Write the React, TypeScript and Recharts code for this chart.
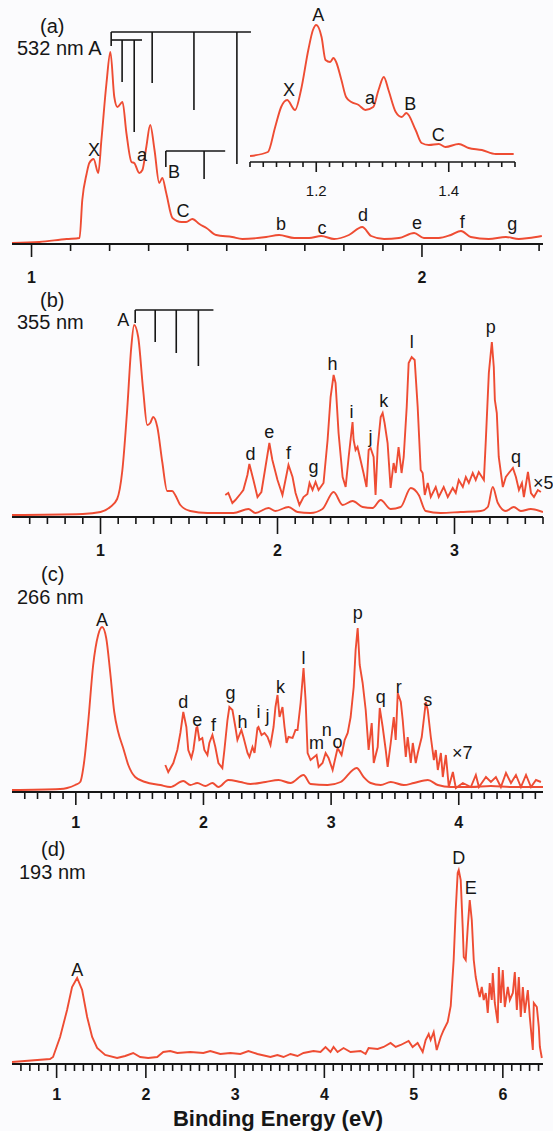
import React from 'react';
import { LineChart, Line, XAxis, YAxis, ReferenceLine, ReferenceDot } from 'recharts';

const W = 553;
const RED = '#ee4c33';
const INK = '#161616';
const FONT = '"Liberation Sans", Arial, Helvetica, sans-serif';

// (a) 532 nm, full range
const aEnergy = [0.95, 1.02, 1.09, 1.123, 1.13, 1.141, 1.148, 1.159, 1.171, 1.179, 1.192, 1.202, 1.212, 1.22, 1.233, 1.243, 1.256, 1.263, 1.276, 1.284, 1.294, 1.304, 1.315, 1.327, 1.335, 1.345, 1.361, 1.384, 1.396, 1.412, 1.43, 1.448, 1.473, 1.514, 1.54, 1.601, 1.634, 1.673, 1.711, 1.742, 1.775, 1.813, 1.847, 1.87, 1.903, 1.941, 1.98, 2.005, 2.043, 2.074, 2.1, 2.125, 2.171, 2.215, 2.248, 2.274, 2.307];
const aSignal = [0.005, 0.01, 0.025, 0.03, 0.22, 0.35, 0.405, 0.425, 0.355, 0.52, 0.805, 0.96, 0.735, 0.685, 0.71, 0.555, 0.41, 0.405, 0.355, 0.37, 0.485, 0.595, 0.47, 0.305, 0.33, 0.255, 0.13, 0.11, 0.11, 0.125, 0.1, 0.08, 0.045, 0.035, 0.025, 0.035, 0.045, 0.03, 0.03, 0.04, 0.025, 0.045, 0.085, 0.04, 0.025, 0.03, 0.055, 0.03, 0.03, 0.045, 0.065, 0.035, 0.025, 0.035, 0.025, 0.03, 0.04];

// (a) inset, expanded low-energy part
const insetEnergy = [1.1, 1.127, 1.138, 1.147, 1.156, 1.168, 1.177, 1.188, 1.195, 1.2, 1.208, 1.214, 1.221, 1.226, 1.23, 1.238, 1.245, 1.253, 1.264, 1.274, 1.286, 1.294, 1.302, 1.309, 1.32, 1.329, 1.336, 1.35, 1.359, 1.37, 1.385, 1.395, 1.415, 1.43, 1.45, 1.471, 1.498];
const insetSignal = [0.06, 0.1, 0.35, 0.55, 0.62, 0.52, 0.72, 1.12, 1.32, 1.37, 1.25, 1.02, 1.0, 1.04, 1.0, 0.82, 0.65, 0.6, 0.57, 0.52, 0.55, 0.72, 0.85, 0.72, 0.5, 0.45, 0.49, 0.32, 0.19, 0.17, 0.18, 0.15, 0.18, 0.14, 0.12, 0.08, 0.08];

// (b) 355 nm
const bEnergy = [0.5, 0.9, 1.0, 1.055, 1.094, 1.123, 1.151, 1.173, 1.19, 1.213, 1.241, 1.264, 1.281, 1.298, 1.321, 1.349, 1.377, 1.405, 1.422, 1.451, 1.507, 1.604, 1.751, 1.836, 1.875, 1.949, 1.988, 2.062, 2.113, 2.186, 2.254, 2.317, 2.368, 2.424, 2.481, 2.537, 2.583, 2.639, 2.696, 2.753, 2.798, 2.837, 2.922, 3.035, 3.149, 3.188, 3.216, 3.245, 3.29, 3.335, 3.375, 3.431, 3.5];
const bSignal = [0.01, 0.015, 0.025, 0.05, 0.09, 0.23, 0.54, 0.84, 0.96, 0.9, 0.635, 0.46, 0.47, 0.5, 0.45, 0.275, 0.13, 0.13, 0.11, 0.06, 0.03, 0.02, 0.02, 0.04, 0.02, 0.045, 0.03, 0.05, 0.025, 0.02, 0.04, 0.125, 0.06, 0.08, 0.05, 0.045, 0.085, 0.04, 0.05, 0.145, 0.11, 0.03, 0.02, 0.025, 0.03, 0.05, 0.15, 0.07, 0.03, 0.05, 0.03, 0.04, 0.025];
const bX5Energy = [1.705, 1.722, 1.745, 1.762, 1.79, 1.807, 1.83, 1.841, 1.864, 1.887, 1.909, 1.932, 1.954, 1.971, 2.0, 2.028, 2.045, 2.062, 2.085, 2.102, 2.124, 2.147, 2.169, 2.181, 2.198, 2.215, 2.232, 2.26, 2.283, 2.3, 2.317, 2.328, 2.345, 2.368, 2.385, 2.402, 2.424, 2.43, 2.441, 2.452, 2.469, 2.486, 2.503, 2.515, 2.526, 2.543, 2.554, 2.566, 2.583, 2.594, 2.605, 2.622, 2.639, 2.656, 2.668, 2.684, 2.701, 2.713, 2.73, 2.741, 2.758, 2.775, 2.792, 2.809, 2.82, 2.832, 2.849, 2.866, 2.894, 2.911, 2.939, 2.962, 2.99, 3.007, 3.024, 3.047, 3.064, 3.081, 3.103, 3.12, 3.137, 3.166, 3.177, 3.194, 3.211, 3.222, 3.228, 3.239, 3.25, 3.273, 3.29, 3.307, 3.33, 3.347, 3.364, 3.381, 3.392, 3.415, 3.432, 3.449, 3.471, 3.488];
const bX5Signal = [0.11, 0.12, 0.07, 0.085, 0.115, 0.135, 0.21, 0.265, 0.185, 0.1, 0.125, 0.25, 0.37, 0.285, 0.185, 0.11, 0.185, 0.26, 0.2, 0.12, 0.06, 0.1, 0.115, 0.17, 0.135, 0.175, 0.135, 0.17, 0.385, 0.6, 0.71, 0.67, 0.42, 0.2, 0.15, 0.3, 0.475, 0.385, 0.335, 0.35, 0.285, 0.22, 0.15, 0.335, 0.345, 0.3, 0.11, 0.35, 0.5, 0.52, 0.47, 0.37, 0.145, 0.27, 0.22, 0.35, 0.22, 0.3, 0.55, 0.77, 0.8, 0.785, 0.55, 0.235, 0.22, 0.11, 0.17, 0.1, 0.15, 0.1, 0.15, 0.1, 0.145, 0.12, 0.185, 0.15, 0.2, 0.17, 0.22, 0.185, 0.225, 0.185, 0.385, 0.72, 0.875, 0.75, 0.585, 0.52, 0.3, 0.15, 0.2, 0.22, 0.245, 0.2, 0.135, 0.17, 0.1, 0.225, 0.12, 0.1, 0.135, 0.125];

// (c) 266 nm
const cEnergy = [0.5, 0.877, 0.932, 0.995, 1.034, 1.065, 1.097, 1.136, 1.175, 1.206, 1.238, 1.269, 1.301, 1.332, 1.371, 1.411, 1.465, 1.544, 1.662, 1.74, 1.842, 1.897, 1.952, 2.015, 2.07, 2.117, 2.195, 2.29, 2.368, 2.486, 2.588, 2.682, 2.784, 2.839, 2.973, 3.075, 3.2, 3.255, 3.31, 3.389, 3.467, 3.569, 3.648, 3.758, 3.836, 3.938, 4.095, 4.252, 4.409, 4.66];
const cSignal = [0.01, 0.015, 0.02, 0.035, 0.05, 0.15, 0.35, 0.635, 0.785, 0.825, 0.77, 0.6, 0.4, 0.3, 0.22, 0.135, 0.075, 0.05, 0.035, 0.025, 0.055, 0.035, 0.045, 0.03, 0.045, 0.025, 0.06, 0.05, 0.04, 0.05, 0.06, 0.045, 0.085, 0.04, 0.035, 0.05, 0.12, 0.075, 0.045, 0.035, 0.05, 0.035, 0.045, 0.06, 0.035, 0.025, 0.025, 0.03, 0.025, 0.025];
const cX7Energy = [1.701, 1.724, 1.764, 1.795, 1.819, 1.842, 1.866, 1.881, 1.905, 1.921, 1.944, 1.952, 1.968, 1.991, 2.007, 2.031, 2.046, 2.07, 2.093, 2.117, 2.148, 2.164, 2.188, 2.203, 2.227, 2.25, 2.266, 2.297, 2.313, 2.345, 2.36, 2.384, 2.4, 2.423, 2.431, 2.455, 2.478, 2.502, 2.525, 2.549, 2.564, 2.58, 2.596, 2.619, 2.635, 2.651, 2.666, 2.698, 2.721, 2.737, 2.761, 2.784, 2.8, 2.816, 2.839, 2.886, 2.902, 2.933, 2.957, 2.98, 3.012, 3.035, 3.051, 3.082, 3.106, 3.13, 3.153, 3.177, 3.192, 3.208, 3.224, 3.247, 3.271, 3.294, 3.318, 3.334, 3.365, 3.381, 3.404, 3.428, 3.443, 3.467, 3.491, 3.506, 3.522, 3.546, 3.561, 3.585, 3.6, 3.624, 3.64, 3.663, 3.679, 3.71, 3.742, 3.757, 3.781, 3.805, 3.82, 3.836, 3.86, 3.875, 3.899, 3.922, 3.954, 3.977, 4.032, 4.095, 4.134, 4.158, 4.213, 4.252, 4.291, 4.33, 4.37, 4.409, 4.448, 4.487, 4.527, 4.566, 4.605, 4.644];
const cX7Signal = [0.135, 0.1, 0.145, 0.21, 0.295, 0.4, 0.325, 0.21, 0.17, 0.21, 0.32, 0.325, 0.26, 0.27, 0.21, 0.185, 0.245, 0.285, 0.225, 0.145, 0.12, 0.21, 0.36, 0.425, 0.41, 0.325, 0.26, 0.31, 0.275, 0.195, 0.175, 0.225, 0.195, 0.32, 0.325, 0.285, 0.295, 0.275, 0.235, 0.325, 0.425, 0.485, 0.375, 0.425, 0.325, 0.245, 0.275, 0.27, 0.31, 0.31, 0.445, 0.62, 0.46, 0.195, 0.16, 0.185, 0.125, 0.145, 0.195, 0.17, 0.11, 0.175, 0.22, 0.185, 0.26, 0.295, 0.375, 0.525, 0.71, 0.82, 0.635, 0.545, 0.41, 0.21, 0.345, 0.145, 0.225, 0.42, 0.325, 0.21, 0.125, 0.245, 0.375, 0.26, 0.495, 0.45, 0.36, 0.175, 0.275, 0.145, 0.245, 0.145, 0.195, 0.275, 0.45, 0.41, 0.275, 0.16, 0.21, 0.11, 0.195, 0.075, 0.185, 0.025, 0.1, 0.02, 0.045, 0.025, 0.085, 0.025, 0.075, 0.05, 0.075, 0.025, 0.095, 0.045, 0.085, 0.025, 0.085, 0.025, 0.06, 0.05];

// (d) 193 nm
const dEnergy = [0.5, 0.926, 0.96, 1.039, 1.117, 1.173, 1.23, 1.286, 1.342, 1.398, 1.454, 1.544, 1.678, 1.768, 1.858, 1.936, 2.026, 2.127, 2.195, 2.273, 2.352, 2.498, 2.644, 2.722, 2.834, 2.947, 3.059, 3.149, 3.25, 3.396, 3.474, 3.542, 3.62, 3.699, 3.766, 3.878, 3.957, 4.013, 4.069, 4.103, 4.148, 4.215, 4.293, 4.406, 4.462, 4.496, 4.597, 4.664, 4.742, 4.799, 4.855, 4.944, 4.989, 5.045, 5.102, 5.135, 5.169, 5.191, 5.225, 5.259, 5.304, 5.337, 5.382, 5.416, 5.449, 5.472, 5.494, 5.506, 5.528, 5.55, 5.562, 5.584, 5.607, 5.629, 5.652, 5.674, 5.696, 5.719, 5.741, 5.764, 5.786, 5.809, 5.831, 5.853, 5.876, 5.887, 5.91, 5.943, 5.955, 5.977, 5.999, 6.022, 6.056, 6.078, 6.112, 6.134, 6.157, 6.179, 6.201, 6.224, 6.246, 6.28, 6.302, 6.336, 6.347, 6.381, 6.403, 6.415, 6.437];
const dSignal = [0.01, 0.025, 0.035, 0.135, 0.27, 0.385, 0.43, 0.37, 0.235, 0.135, 0.08, 0.045, 0.03, 0.04, 0.055, 0.035, 0.03, 0.035, 0.06, 0.065, 0.055, 0.06, 0.055, 0.065, 0.05, 0.055, 0.05, 0.065, 0.05, 0.035, 0.045, 0.035, 0.05, 0.04, 0.055, 0.065, 0.06, 0.085, 0.06, 0.085, 0.06, 0.08, 0.06, 0.065, 0.05, 0.08, 0.075, 0.085, 0.105, 0.085, 0.095, 0.115, 0.085, 0.105, 0.06, 0.12, 0.15, 0.12, 0.16, 0.07, 0.135, 0.17, 0.21, 0.29, 0.52, 0.77, 0.955, 0.97, 0.92, 0.685, 0.535, 0.52, 0.685, 0.82, 0.72, 0.52, 0.435, 0.38, 0.335, 0.385, 0.32, 0.355, 0.255, 0.405, 0.32, 0.455, 0.305, 0.205, 0.485, 0.305, 0.47, 0.285, 0.385, 0.32, 0.355, 0.46, 0.27, 0.435, 0.235, 0.385, 0.255, 0.37, 0.235, 0.07, 0.305, 0.285, 0.185, 0.085, 0.03];

// peak assignments: [label, energy (eV), height]
type Peak = [string, number, number];
const aPeaks: Peak[] = [['X', 1.16, 0.47], ['a', 1.283, 0.445], ['B', 1.365, 0.36], ['C', 1.388, 0.165], ['b', 1.639, 0.1], ['c', 1.744, 0.08], ['d', 1.849, 0.145], ['e', 1.987, 0.105], ['f', 2.103, 0.11], ['g', 2.231, 0.1]];
const insetPeaks: Peak[] = [['A', 1.203, 1.47], ['X', 1.159, 0.72], ['a', 1.281, 0.64], ['B', 1.342, 0.58], ['C', 1.384, 0.27]];
const bPeaks: Peak[] = [['A', 1.128, 0.985], ['d', 1.847, 0.315], ['e', 1.954, 0.425], ['f', 2.062, 0.32], ['g', 2.203, 0.25], ['h', 2.311, 0.765], ['i', 2.418, 0.525], ['j', 2.526, 0.4], ['k', 2.6, 0.58], ['l', 2.758, 0.875], ['p', 3.205, 0.95], ['q', 3.347, 0.3]];
const cPeaks: Peak[] = [['A', 1.206, 0.86], ['d', 1.842, 0.45], ['e', 1.952, 0.36], ['f', 2.078, 0.335], ['g', 2.211, 0.495], ['h', 2.305, 0.35], ['i', 2.431, 0.4], ['j', 2.502, 0.38], ['k', 2.604, 0.525], ['l', 2.784, 0.67], ['m', 2.886, 0.245], ['n', 2.965, 0.31], ['o', 3.051, 0.25], ['p', 3.208, 0.895], ['q', 3.389, 0.475], ['r', 3.53, 0.525], ['s', 3.757, 0.46]];
const dPeaks: Peak[] = [['A', 1.23, 0.47], ['D', 5.506, 1.03], ['E', 5.64, 0.88]];

// vibrational progressions (combs): [e1, h1, e2, h2]
type Seg = [number, number, number, number];
const aCombs: Seg[] = [
  [1.204, 1.06, 1.562, 1.06], [1.204, 1.06, 1.204, 0.99], [1.309, 1.06, 1.309, 0.805], [1.416, 1.06, 1.416, 0.67], [1.526, 1.06, 1.526, 0.4],
  [1.204, 1.02, 1.283, 1.02], [1.232, 1.02, 1.232, 0.81], [1.263, 1.02, 1.263, 0.56],
  [1.344, 0.465, 1.496, 0.465], [1.344, 0.465, 1.344, 0.385], [1.442, 0.465, 1.442, 0.325],
];
const bCombs: Seg[] = [
  [1.196, 1.035, 1.638, 1.035], [1.196, 1.035, 1.196, 0.97], [1.309, 1.035, 1.309, 0.875], [1.428, 1.035, 1.428, 0.82], [1.553, 1.035, 1.553, 0.755],
];

type Trace = { e: number[]; v: number[]; smooth: boolean };

const steps = (from: number, to: number, step: number) => {
  const out: number[] = [];
  for (let k = 0; from + k * step <= to + 1e-9; k++) out.push(Math.round((from + k * step) * 1000) / 1000);
  return out;
};
const near = (list: number[], v: number) => list.some((m) => Math.abs(m - v) < 1e-6);
const joinTrace = (e: number[], v: number[]) => e.map((x, i) => ({ e: x, v: v[i] }));

function makeTick(longs: number[], labelled: number[], longLen: number, shortLen: number, gap: number, bold: boolean, size: number) {
  return (props: any) => {
    const { x, y, payload } = props;
    const val = payload.value as number;
    const isLong = near(longs, val);
    return (
      <g>
        <line x1={x} y1={y} x2={x} y2={y + (isLong ? longLen : shortLen)} stroke={INK} strokeWidth={1.6} />
        {near(labelled, val) && (
          <text x={x} y={y + gap} textAnchor="middle" dominantBaseline="central" fontFamily={FONT} fontSize={size} fontWeight={bold ? 700 : 400} fill={INK}>
            {val}
          </text>
        )}
      </g>
    );
  };
}

interface PanelProps {
  plotTop: number;
  plotH: number;
  xDomain: [number, number];
  yMax: number;
  ticks: number[];
  majors: number[];
  majorLen: number;
  gap: number;
  traces: Trace[];
  peaks: Peak[];
  segs?: Seg[];
}

function Panel({ plotTop, plotH, xDomain, yMax, ticks, majors, majorLen, gap, traces, peaks, segs = [] }: PanelProps) {
  return (
    <div style={{ position: 'absolute', left: 0, top: plotTop - 10 }}>
      <LineChart width={W} height={plotH + 60} margin={{ top: 10, right: 10, bottom: 10, left: 12 }}>
        <XAxis
          type="number"
          dataKey="e"
          domain={xDomain}
          allowDataOverflow
          ticks={ticks}
          interval={0}
          tickLine={false}
          tickSize={0}
          tickMargin={0}
          tick={makeTick(majors, majors, majorLen, 7, gap, true, 16)}
          axisLine={{ stroke: INK, strokeWidth: 2 }}
          height={40}
        />
        <YAxis type="number" domain={[0, yMax]} allowDataOverflow width={0} tick={false} tickLine={false} axisLine={{ stroke: INK, strokeWidth: 2 }} />
        {traces.map((tr, i) => (
          <Line
            key={`t${i}`}
            data={joinTrace(tr.e, tr.v)}
            dataKey="v"
            type={tr.smooth ? 'monotone' : 'linear'}
            stroke={RED}
            strokeWidth={1.9}
            dot={false}
            isAnimationActive={false}
          />
        ))}
        {segs.map((s, i) => (
          <ReferenceLine key={`s${i}`} segment={[{ x: s[0], y: s[1] }, { x: s[2], y: s[3] }]} stroke={INK} strokeWidth={1.6} ifOverflow="visible" />
        ))}
        {peaks.map(([t, e, v], i) => (
          <ReferenceDot
            key={`p${i}`}
            x={e}
            y={v}
            r={0}
            fill="none"
            stroke="none"
            ifOverflow="visible"
            label={{ value: t, position: 'center', fill: INK, fontSize: 18, fontFamily: FONT }}
          />
        ))}
      </LineChart>
    </div>
  );
}

function Inset() {
  const ticks = steps(1.1, 1.5, 0.02);
  return (
    <div style={{ position: 'absolute', left: 0, top: 2 }}>
      <LineChart width={W} height={210} margin={{ top: 10, right: 38, bottom: 10, left: 250 }}>
        <XAxis
          type="number"
          dataKey="e"
          domain={[1.1, 1.5]}
          allowDataOverflow
          ticks={ticks}
          interval={0}
          tickLine={false}
          tickSize={0}
          tickMargin={0}
          tick={makeTick([1.2, 1.4], [1.2, 1.4], 10, 5, 28, false, 15)}
          axisLine={{ stroke: INK, strokeWidth: 1.6 }}
          height={40}
        />
        <YAxis type="number" domain={[0, 1.5]} allowDataOverflow hide />
        <Line data={joinTrace(insetEnergy, insetSignal)} dataKey="v" type="monotone" stroke={RED} strokeWidth={1.9} dot={false} isAnimationActive={false} />
        {insetPeaks.map(([t, e, v], i) => (
          <ReferenceDot key={i} x={e} y={v} r={0} fill="none" stroke="none" ifOverflow="visible" label={{ value: t, position: 'center', fill: INK, fontSize: 18, fontFamily: FONT }} />
        ))}
      </LineChart>
    </div>
  );
}

export default function App() {
  const txt = { fontFamily: FONT, fill: INK, dominantBaseline: 'central' as const };
  return (
    <div style={{ position: 'absolute', left: 0, top: 0, width: W, height: 1131, overflow: 'hidden', background: '#fbfbfd' }}>
      <Panel
        plotTop={14}
        plotH={230}
        xDomain={[0.95, 2.31]}
        yMax={1.15}
        ticks={steps(1.0, 2.3, 0.1)}
        majors={[1, 2]}
        majorLen={13}
        gap={33}
        traces={[{ e: aEnergy, v: aSignal, smooth: true }]}
        peaks={aPeaks}
        segs={aCombs}
      />
      <Inset />
      <Panel
        plotTop={288}
        plotH={229}
        xDomain={[0.5, 3.5]}
        yMax={1.145}
        ticks={steps(0.6, 3.5, 0.1)}
        majors={[1, 2, 3]}
        majorLen={17}
        gap={33}
        traces={[
          { e: bEnergy, v: bSignal, smooth: true },
          { e: bX5Energy, v: bX5Signal, smooth: false },
        ]}
        peaks={bPeaks}
        segs={bCombs}
      />
      <Panel
        plotTop={562}
        plotH={230}
        xDomain={[0.5, 4.66]}
        yMax={1.15}
        ticks={steps(0.6, 4.6, 0.1)}
        majors={[1, 2, 3, 4]}
        majorLen={13}
        gap={30}
        traces={[
          { e: cEnergy, v: cSignal, smooth: true },
          { e: cX7Energy, v: cX7Signal, smooth: false },
        ]}
        peaks={cPeaks}
      />
      <Panel
        plotTop={835}
        plotH={229}
        xDomain={[0.5, 6.45]}
        yMax={1.145}
        ticks={steps(0.6, 6.4, 0.1)}
        majors={[1, 2, 3, 4, 5, 6]}
        majorLen={14}
        gap={30}
        traces={[{ e: dEnergy, v: dSignal, smooth: false }]}
        peaks={dPeaks}
      />
      <svg width={W} height={1131} style={{ position: 'absolute', left: 0, top: 0, pointerEvents: 'none' }}>
        <text x={40} y={26} fontSize={20} {...txt}>(a)</text>
        <text x={17} y={48} fontSize={20} {...txt}>532 nm A</text>
        <text x={40} y={300} fontSize={20} {...txt}>(b)</text>
        <text x={17} y={322} fontSize={20} {...txt}>355 nm</text>
        <text x={41} y={574} fontSize={20} {...txt}>(c)</text>
        <text x={17} y={597} fontSize={20} {...txt}>266 nm</text>
        <text x={41} y={849} fontSize={20} {...txt}>(d)</text>
        <text x={19} y={872} fontSize={20} {...txt}>193 nm</text>
        <text x={533} y={483} fontSize={18} {...txt}>×5</text>
        <text x={452} y={753} fontSize={18} {...txt}>×7</text>
        <text x={278} y={1126} fontSize={22} fontWeight={700} textAnchor="middle" fontFamily={FONT} fill={INK}>Binding Energy (eV)</text>
      </svg>
    </div>
  );
}
